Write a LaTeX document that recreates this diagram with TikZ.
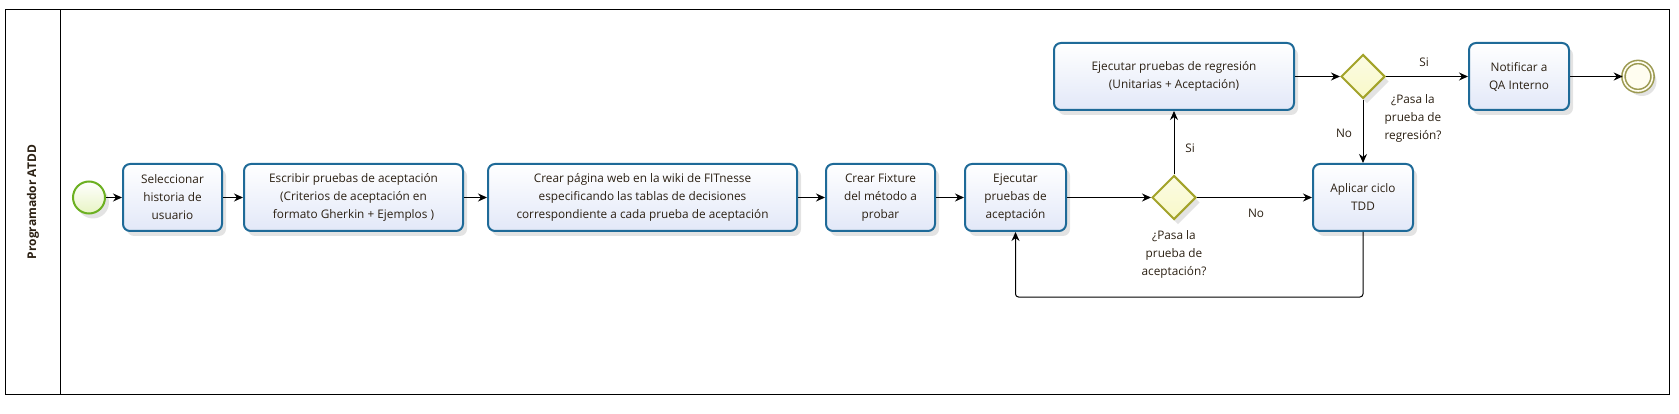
\documentclass[tikz,border=0pt]{standalone}
\usepackage{fontspec}
\setmainfont{Open Sans}
\usetikzlibrary{shapes.geometric,arrows.meta,shadows}
\definecolor{taskborder}{HTML}{1E6A98}
\definecolor{taskfill}{HTML}{E2E8F8}
\definecolor{gwborder}{HTML}{A3A32A}
\definecolor{gwfill}{HTML}{F8F8C8}
\definecolor{startborder}{HTML}{6CB021}
\definecolor{startfill}{HTML}{E8F4C4}
\definecolor{endborder}{HTML}{9C9A52}
\definecolor{endfill}{HTML}{FFFDF0}
\definecolor{txt}{HTML}{2B2013}
\begin{document}
\begin{tikzpicture}[x=1pt,y=-1pt,
  every node/.style={font=\fontsize{11.8}{18}\selectfont, text=txt},
  shd/.style={drop shadow={shadow xshift=4pt, shadow yshift=-5pt, opacity=0.22, fill=gray}},
  task/.style={draw=taskborder, line width=2pt, rounded corners=7pt, top color=white, bottom color=taskfill,
    shd, align=center, inner sep=0pt, minimum height=67pt},
  gw/.style={diamond, draw=gwborder, line width=2pt, top color=white!50!gwfill, bottom color=gwfill,
    shd, minimum width=44pt, minimum height=44pt, inner sep=0pt},
  startev/.style={circle, draw=startborder, line width=2pt, top color=white, bottom color=startfill,
    shd, minimum size=32pt, inner sep=0pt},
  endev/.style={circle, draw=endborder, fill=endfill, line width=1.6pt, double=endfill, double distance=1.6pt,
    shd, minimum size=29pt, inner sep=0pt},
  flow/.style={draw=black, line width=1pt, -{Stealth[length=9pt,width=8pt]}},
  lbl/.style={align=center, inner sep=0pt}
]
\useasboundingbox (0,0) rectangle (1679,414);
% pool / lane
\draw[line width=1pt] (5,9.5) rectangle (1669,394);
\draw[line width=1pt] (60,9.5) -- (60,394);
\node[rotate=90, font=\fontsize{12}{14}\selectfont\bfseries] (lane) at (33,202) {Programador ATDD};

% nodes
\node[startev] (s) at (89,197.5) {};
\node[task, minimum width=99pt] (t1) at (172.5,197.5) {Seleccionar\\historia de\\usuario};
\node[task, minimum width=219pt] (t2) at (353.5,197.5) {Escribir pruebas de aceptación\\(Criterios de aceptación en\\formato Gherkin + Ejemplos )};
\node[task, minimum width=309pt] (t3) at (642.5,197.5) {Crear página web en la wiki de FITnesse\\especificando las tablas de decisiones\\correspondiente a cada prueba de aceptación};
\node[task, minimum width=109pt] (t4) at (880.5,197.5) {Crear Fixture\\del método a\\probar};
\node[task, minimum width=101pt] (t5) at (1015.5,197.5) {Ejecutar\\pruebas de\\aceptación};
\node[gw] (g1) at (1174,197.5) {};
\node[task, minimum width=240pt] (t6) at (1174,76.5) {Ejecutar pruebas de regresión\\(Unitarias + Aceptación)};
\node[task, minimum width=100pt] (tdd) at (1363,197.5) {Aplicar ciclo\\TDD};
\node[gw] (g2) at (1363,76.5) {};
\node[task, minimum width=100pt] (qa) at (1519,76.5) {Notificar a\\QA Interno};
\node[endev] (e) at (1638,76.5) {};

% connectors
\draw[flow] (s) -- (t1);
\draw[flow] (t1) -- (t2);
\draw[flow] (t2) -- (t3);
\draw[flow] (t3) -- (t4);
\draw[flow] (t4) -- (t5);
\draw[flow] (t5) -- (g1);
\draw[flow] (g1) -- (t6);
\draw[flow] (g1) -- (tdd);
\draw[flow] (t6) -- (g2);
\draw[flow] (g2) -- (qa);
\draw[flow] (qa) -- (e);
\draw[flow] (g2) -- (tdd);
\draw[flow, rounded corners=3pt] (tdd.south) -- (1363,297) -- (1015.5,297) -- (t5.south);

% labels
\node[lbl] (l1) at (1190,148) {Si};
\node[lbl] (l2) at (1256,213) {No};
\node[lbl] (l3) at (1174,254) {¿Pasa la\\prueba de\\aceptación?};
\node[lbl] (l4) at (1424,62) {Si};
\node[lbl] (l5) at (1344,133) {No};
\node[lbl] (l6) at (1413,118) {¿Pasa la\\prueba de\\regresión?};
\end{tikzpicture}
\end{document}
